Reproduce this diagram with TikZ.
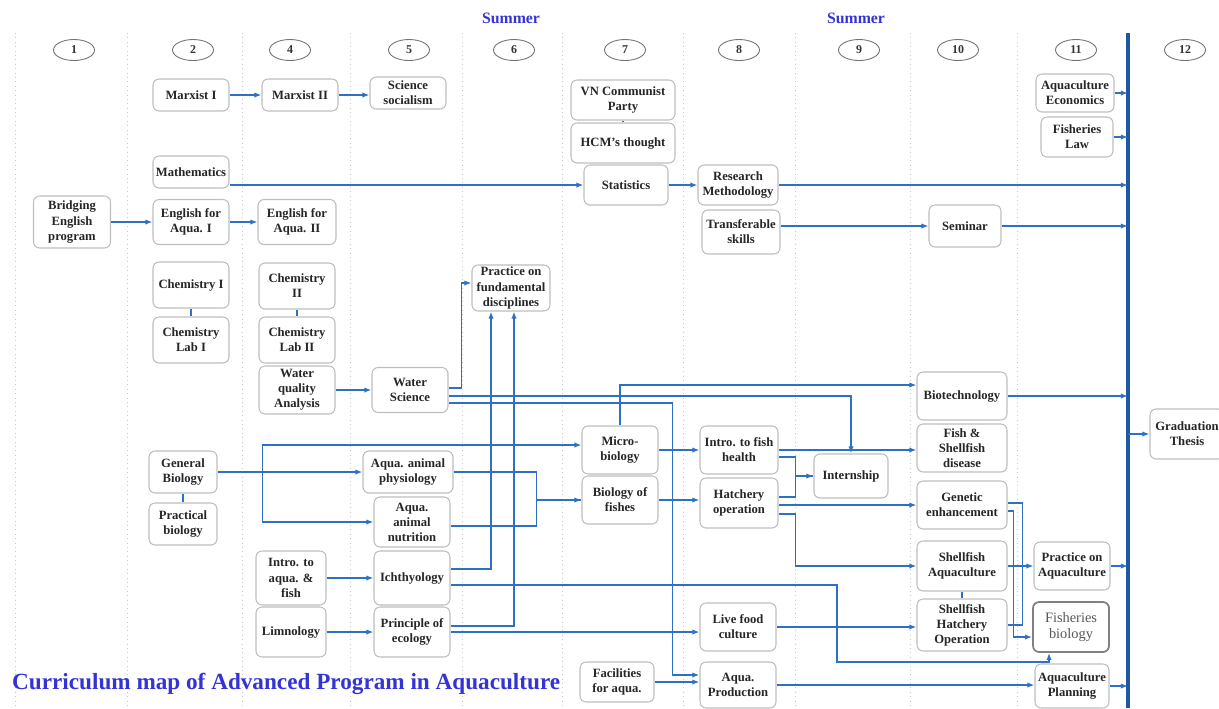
\documentclass[tikz,border=0pt]{standalone}
\usepackage{fontspec}
\setmainfont{Liberation Serif}
\usetikzlibrary{arrows.meta}
\usetikzlibrary{shapes.geometric}
\definecolor{linkblue}{RGB}{46,112,196}
\definecolor{barblue}{RGB}{30,88,160}
\definecolor{titleblue}{RGB}{52,52,214}
\definecolor{boxgray}{RGB}{190,190,190}
\definecolor{sepgray}{RGB}{200,200,200}
\tikzset{course/.style 2 args={draw=boxgray, line width=0.6pt, rounded corners=3.5pt,
    fill=white, align=center, inner sep=1pt, text=black!85,
    font=\fontsize{7.2}{8.6}\selectfont\bfseries,
    minimum width=#1*0.02cm, minimum height=#2*0.02cm}
}
\tikzset{sem/.style={draw=black!55, ellipse, line width=0.5pt, inner sep=0pt,
    minimum width=0.82cm, minimum height=0.42cm, text=black!80,
    font=\fontsize{6.8}{8}\selectfont\bfseries}
}
\tikzset{link/.style={draw=linkblue, line width=1pt, -{Latex[length=4pt,width=3pt]}},
  joinline/.style={draw=linkblue, line width=1pt},
  barline/.style={draw=barblue, line width=1.8pt},
  season/.style={text=titleblue, font=\fontsize{9}{10}\selectfont\bfseries}
}

\begin{document}
\begin{tikzpicture}[x=0.02cm, y=-0.02cm]
                \useasboundingbox (0,0) rectangle (1219,708);
                
                % semester columns
                \foreach \x in {15,127,242,350,462,562,683,795,910,1017}
                    \draw[sepgray, dotted, line width=0.5pt] (\x,33) -- (\x,708);
                \foreach \x/\n in {74/1,193/2,290/4,409/5,514/6,625/7,739/8,859/9,958/10,1076/11,1185/12}
                    \node[sem] (t\n) at (\x,50) {\n};
                \node[season] (sum1) at (511,18) {Summer};
                \node[season] (sum2) at (856,18) {Summer};
                
                \coordinate (bartop) at (1128,33);
                \coordinate (barbot) at (1128,708);
                \draw[barline] (bartop) -- (barbot);
                
                % courses
                \node[course={77}{52}] (brid) at (72,222) {Bridging\\English\\program};
                \node[course={76}{32}] (mx1) at (191,95) {Marxist I};
                \node[course={76}{32}] (math) at (191,172) {Mathematics};
                \node[course={76}{45}] (eng1) at (191,222) {English for\\Aqua. I};
                \node[course={76}{46}] (chem1) at (191,285) {Chemistry I};
                \node[course={76}{46}] (chl1) at (191,340) {Chemistry\\Lab I};
                \node[course={68}{42}] (gbio) at (183,472) {General\\Biology};
                \node[course={68}{42}] (pbio) at (183,524) {Practical\\biology};
                
                \node[course={76}{32}] (mx2) at (300,95) {Marxist II};
                \node[course={78}{45}] (eng2) at (297,222) {English for\\Aqua. II};
                \node[course={76}{46}] (chem2) at (297,286) {Chemistry\\II};
                \node[course={76}{46}] (chl2) at (297,340) {Chemistry\\Lab II};
                \node[course={76}{48}] (wqa) at (297,390) {Water\\quality\\Analysis};
                \node[course={70}{54}] (iaf) at (291,578) {Intro. to\\aqua. \&\\fish};
                \node[course={70}{50}] (limn) at (291,632) {Limnology};
                
                \node[course={76}{32}] (sci) at (408,93) {Science\\socialism};
                \node[course={76}{45}] (wsci) at (410,390) {Water\\Science};
                \node[course={90}{42}] (aphy) at (408,472) {Aqua. animal\\physiology};
                \node[course={76}{50}] (anut) at (412,522) {Aqua.\\animal\\nutrition};
                \node[course={76}{54}] (ich) at (412,578) {Ichthyology};
                \node[course={76}{50}] (peco) at (412,632) {Principle of\\ecology};
                
                \node[course={78}{46}] (pfd) at (511,288) {Practice on\\fundamental\\disciplines};
                
                \node[course={104}{40}] (vncp) at (623,100) {VN Communist\\Party};
                \node[course={104}{40}] (hcm) at (623,143) {HCM's thought};
                \node[course={84}{40}] (stat) at (626,185) {Statistics};
                \node[course={76}{48}] (micro) at (620,450) {Micro-\\biology};
                \node[course={76}{48}] (bfish) at (620,500) {Biology of\\fishes};
                \node[course={74}{40}] (facil) at (617,682) {Facilities\\for aqua.};
                
                \node[course={80}{40}] (resm) at (738,185) {Research\\Methodology};
                \node[course={78}{44}] (trans) at (741,232) {Transferable\\skills};
                \node[course={78}{48}] (ifh) at (739,450) {Intro. to fish\\health};
                \node[course={78}{50}] (hatch) at (739,503) {Hatchery\\operation};
                \node[course={76}{48}] (live) at (738,627) {Live food\\culture};
                \node[course={76}{46}] (aprod) at (738,685) {Aqua.\\Production};
                
                \node[course={74}{44}] (intern) at (851,476) {Internship};
                
                \node[course={72}{42}] (semi) at (965,226) {Seminar};
                \node[course={90}{48}] (biot) at (962,396) {Biotechnology};
                \node[course={90}{48}] (fsd) at (962,448) {Fish \&\\Shellfish\\disease};
                \node[course={90}{48}] (gen) at (962,505) {Genetic\\enhancement};
                \node[course={90}{50}] (saq) at (962,566) {Shellfish\\Aquaculture};
                \node[course={90}{52}] (shop) at (962,625) {Shellfish\\Hatchery\\Operation};
                
                \node[course={78}{38}] (aecon) at (1075,93) {Aquaculture\\Economics};
                \node[course={72}{40}] (flaw) at (1077,137) {Fisheries\\Law};
                \node[course={76}{48}] (paq) at (1072,566) {Practice on\\Aquaculture};
                \node[course={76}{50}, draw=black!50, line width=1pt, text=black!65,
                      font=\fontsize{8.2}{9.6}\selectfont] (fbio) at (1071,627) {Fisheries\\biology};
                \node[course={74}{44}] (aplan) at (1072,686) {Aquaculture\\Planning};
                
                \node[course={74}{50}] (thesis) at (1187,434) {Graduation\\Thesis};
                
                % politics and tools
                \draw[link] (mx1) -- (mx2);
                \draw[link] (mx2.east) -- (mx2.east -| sci.west);
                \draw[joinline] (vncp) -- (hcm);
                \draw[link] (math.east |- stat.west) -- (stat.west);
                \draw[link] (stat) -- (resm);
                \draw[link] (brid) -- (eng1);
                \draw[link] (eng1) -- (eng2);
                \draw[link] (trans.east |- semi.west) -- (semi.west);
                
                % labs
                \draw[joinline] (chem1) -- (chl1);
                \draw[joinline] (chem2) -- (chl2);
                \draw[joinline] (gbio) -- (pbio);
                \draw[joinline] (saq) -- (shop);
                
                % fundamentals
                \draw[link] (wqa) -- (wsci);
                \draw[link] ([yshift=0.04cm]wsci.east) -- ++(13,0) |- ([yshift=0.1cm]pfd.west);
                \draw[link] ([yshift=-0.12cm]wsci.east) -| (intern.north);
                \draw[link] ([yshift=-0.26cm]wsci.east) -| ([xshift=-0.54cm,yshift=0.2cm]aprod.west) -- ([yshift=0.2cm]aprod.west);
                \draw[link] (micro.north) |- ([yshift=0.22cm]biot.west);
                \draw[link] (gbio.east) -- (aphy.west);
                \draw[link] ([xshift=0.9cm]gbio.east) |- ([yshift=0.1cm]micro.west);
                \draw[link] ([xshift=0.9cm]gbio.east) |- (anut.west);
                \draw[link] (aphy.east) -- ++(83,0) |- (bfish.west);
                \draw[joinline] ([yshift=-0.08cm]anut.east) -- ++(86,0) |- (bfish.west);
                \draw[link] (iaf) -- (ich);
                \draw[link] (limn) -- (peco);
                \draw[link] ([yshift=0.18cm]ich.east) -| ([xshift=-0.4cm]pfd.south);
                \draw[link] ([yshift=0.12cm]peco.east) -| ([xshift=0.06cm]pfd.south);
                \draw[link] ([yshift=-0.14cm]ich.east) -| ([xshift=-4.68cm,yshift=-0.18cm]fbio.south) -| ([xshift=-0.44cm]fbio.south);
                \draw[link] (peco.east) -- (peco.east -| live.west);
                
                % specialisation
                \draw[link] (micro) -- (ifh);
                \draw[link] (bfish.east) -- (bfish.east -| hatch.west);
                \draw[link] (ifh.east) -- (ifh.east -| fsd.west);
                \draw[link] ([yshift=-0.14cm]ifh.east) -- ++(17,0) |- (intern.west);
                \draw[joinline] ([yshift=0.12cm]hatch.east) -- ++(17,0) |- (intern.west);
                \draw[link] (hatch.east |- gen.west) -- (gen.west);
                \draw[link] ([yshift=-0.22cm]hatch.east) -- ++(17,0) |- (saq.west);
                \draw[link] (live.east) -- (live.east -| shop.west);
                \draw[link] (facil.east) -- (facil.east -| aprod.west);
                \draw[link] (aprod.east) -- (aprod.east -| aplan.west);
                \draw[joinline] ([yshift=0.04cm]gen.east) -- ++(15,0) |- (shop.east);
                \draw[link] ([yshift=-0.12cm]gen.east) -- ++(6,0) |- ([yshift=-0.2cm]fbio.west);
                \draw[link] (saq) -- (paq);
                
                % into the thesis bar
                \draw[link] (resm.east) -- (resm.east -| bartop);
                \draw[link] (semi.east) -- (semi.east -| bartop);
                \draw[link] (aecon.east) -- (aecon.east -| bartop);
                \draw[link] (flaw.east) -- (flaw.east -| bartop);
                \draw[link] (biot.east) -- (biot.east -| bartop);
                \draw[link] (paq.east) -- (paq.east -| bartop);
                \draw[link] (aplan.east) -- (aplan.east -| bartop);
                \draw[link] (thesis.west -| bartop) -- (thesis.west);
                
                \node[anchor=west, text=titleblue, font=\fontsize{13.2}{15}\selectfont\bfseries] (maptitle) at (6,684) {Curriculum map of Advanced Program in Aquaculture};
\end{tikzpicture}
\end{document}
